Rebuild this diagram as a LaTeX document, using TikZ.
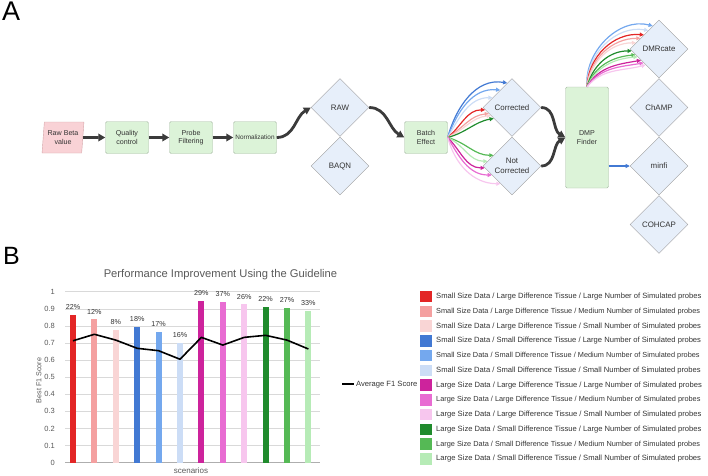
\documentclass[tikz,border=0pt]{standalone}
\usepackage{fontspec}
\setmainfont{Liberation Sans}
\usetikzlibrary{shapes.geometric,arrows.meta}

\definecolor{cRedA}{HTML}{E32626}
\definecolor{cRedB}{HTML}{F4A0A0}
\definecolor{cRedC}{HTML}{F9D5D5}
\definecolor{cBluA}{HTML}{4279D3}
\definecolor{cBluB}{HTML}{74A8EE}
\definecolor{cBluC}{HTML}{CCDDF6}
\definecolor{cMagA}{HTML}{CD239C}
\definecolor{cMagB}{HTML}{E86CD2}
\definecolor{cMagC}{HTML}{F7C6EE}
\definecolor{cGrnA}{HTML}{1F8B2C}
\definecolor{cGrnB}{HTML}{55B955}
\definecolor{cGrnC}{HTML}{B6EBB6}
\definecolor{boxfill}{HTML}{DCF3D8}
\definecolor{boxline}{HTML}{A8BBA5}
\definecolor{diafill}{HTML}{E7EFFA}
\definecolor{dialine}{HTML}{9C9C9C}
\definecolor{pinkfill}{HTML}{F9D2D6}
\definecolor{pinkline}{HTML}{D4A4A8}
\definecolor{flowgray}{HTML}{3B3B3B}
\definecolor{txtgray}{HTML}{333333}
\definecolor{axisgray}{HTML}{595959}
\definecolor{gridgray}{HTML}{D9D9D9}

\begin{document}
\begin{tikzpicture}[x=1pt,y=-1pt]
      \useasboundingbox (0,0) rectangle (708,475);
      \tikzset{P/.style = {trapezium, trapezium left angle=82, trapezium right angle=98, trapezium stretches=true, minimum width=42pt, minimum height=31pt, inner sep=0pt, draw=pinkline, fill=pinkfill, align=center, text=txtgray, font=\fontsize{7.1}{8.4}\selectfont}}
      \tikzset{R/.style = {draw=boxline, fill=boxfill, rounded corners=1.5pt, minimum width=43pt, minimum height=32pt, inner sep=1pt, align=center, text=txtgray, font=\fontsize{7.1}{8.4}\selectfont}}
      \tikzset{D/.style = {shape=diamond, draw=dialine, fill=diafill, minimum width=58pt, minimum height=58pt, inner sep=0pt, align=center, text=txtgray, font=\fontsize{7.9}{9.4}\selectfont}}
      \tikzset{E/.style = {draw=flowgray, line width=2.8pt, -{Triangle[length=7pt,width=7.5pt]}}}
      \tikzset{F/.style = {line width=1.2pt, -{Triangle[length=4.2pt,width=4pt]}}}
      \tikzset{tick/.style = {anchor=east, inner sep=1pt, text=axisgray, font=\fontsize{7.5}{9}\selectfont}}
      \tikzset{pct/.style = {inner sep=0pt, yshift=7.5pt, text=txtgray, font=\fontsize{7.2}{8.6}\selectfont}}
      \tikzset{key/.style = {minimum width=11.5pt, minimum height=11.5pt, inner sep=0pt}}
      \tikzset{keytxt/.style = {anchor=west, inner sep=0pt, text=txtgray, font=\fontsize{7.6}{9}\selectfont}}
      % panel A
      \node[anchor=north west, inner sep=0pt, font=\fontsize{27}{27}\selectfont] (lblA) at (2,2) {A};
      \node[P] (rbv) at (63,137.5) {Raw Beta\\value};
      \node[R] (qc) at (127,137.5) {Quality\\control};
      \node[R] (pf) at (191,137.5) {Probe\\Filtering};
      \node[R,font=\fontsize{6.4}{7.5}\selectfont] (norm) at (255,137.5) {Normalization};
      \node[D] (raw) at (340,107.5) {RAW};
      \node[D] (baqn) at (340,166) {BAQN};
      \node[R] (batch) at (426,137.5) {Batch\\Effect};
      \node[D] (corr) at (512,107.5) {Corrected};
      \node[D] (ncorr) at (512,166) {Not\\Corrected};
      \node[R,minimum height=101pt] (dmp) at (587,137.5) {DMP\\Finder};
      \node[D] (dmrcate) at (659,49) {DMRcate};
      \node[D] (champ) at (659,107.5) {ChAMP};
      \node[D] (minfi) at (659,166) {minfi};
      \node[D] (cohcap) at (659,224.5) {COHCAP};
      \draw[E] (rbv.east) -- (qc.west);
      \draw[E] (qc) -- (pf);
      \draw[E] (pf) -- (norm);
      \draw[E] (norm.east) to[out=0,in=210] (raw.west);
      \draw[E] (raw.east) to[out=0,in=150] (batch.west);
      \draw[E] (corr.east) to[out=0,in=150] (dmp.west);
      \draw[E] (ncorr.east) to[out=0,in=210] (dmp.west);
      % batch effect fan
      \draw[F,cBluA] (batch.east) to[out=75,in=170] (corr.101);
      \draw[F,cBluB] (batch.east) to[out=70,in=175] (corr.124);
      \draw[F,cBluC] (batch.east) to[out=60,in=180] (corr.153);
      \draw[F,cRedA] (batch.east) to[out=40,in=180] (corr.185);
      \draw[F,cRedB] (batch.east) to[out=32,in=185] (corr.195);
      \draw[F,cRedC] (batch.east) to[out=25,in=185] (corr.201);
      \draw[F,cGrnA] (batch.east) to[out=15,in=190] (corr.211);
      \draw[F,cGrnB] (batch.east) to[out=-15,in=180] (ncorr.150);
      \draw[F,cGrnC] (batch.east) to[out=-25,in=180] (ncorr.169);
      \draw[F,cMagA] (batch.east) to[out=-45,in=180] (ncorr.184);
      \draw[F,cMagB] (batch.east) to[out=-60,in=180] (ncorr.204);
      \draw[F,cMagC] (batch.east) to[out=-75,in=180] (ncorr.237);
      % DMP finder fan
      \draw[F,cBluB] (dmp.north) to[out=95,in=165] (dmrcate.105);
      \draw[F,cBluC] (dmp.north) to[out=92,in=170] (dmrcate.120);
      \draw[F,cRedA] (dmp.north) to[out=88,in=175] (dmrcate.137);
      \draw[F,cRedB] (dmp.north) to[out=85,in=180] (dmrcate.150);
      \draw[F,cRedC] (dmp.north) to[out=82,in=180] (dmrcate.165);
      \draw[F,cGrnA] (dmp.north) to[out=75,in=180] (dmrcate.184);
      \draw[F,cGrnB] (dmp.north) to[out=70,in=185] (dmrcate.194);
      \draw[F,cGrnC] (dmp.north) to[out=65,in=185] (dmrcate.200);
      \draw[F,cMagA] (dmp.north) to[out=60,in=190] (dmrcate.212);
      \draw[F,cMagB] (dmp.north) to[out=55,in=190] (dmrcate.222);
      \draw[F,cMagC] (dmp.north) to[out=50,in=195] (dmrcate.230);
      \draw[F,cBluA] (dmp.east |- minfi.west) -- (minfi.west);
      % panel B
      \node[anchor=north west, inner sep=0pt, font=\fontsize{25}{25}\selectfont] (lblB) at (3,247) {B};
      \node[text=axisgray, font=\fontsize{11.2}{13}\selectfont] (title) at (220.5,275) {Performance Improvement Using the Guideline};
      \node[rotate=90, text=axisgray, font=\fontsize{7.2}{8.6}\selectfont] (ylab) at (39,380.5) {Best F1 Score};
      \node[text=axisgray, font=\fontsize{8}{9.6}\selectfont] (xlab) at (191,470.5) {scenarios};
      \begin{scope}[shift={(0,462.7)}, y=171pt]
        \draw[gridgray, line width=0.6pt] (65,0.1) -- (320,0.1) (65,0.2) -- (320,0.2) (65,0.3) -- (320,0.3)
          (65,0.4) -- (320,0.4) (65,0.5) -- (320,0.5) (65,0.6) -- (320,0.6) (65,0.7) -- (320,0.7)
          (65,0.8) -- (320,0.8) (65,0.9) -- (320,0.9) (65,1) -- (320,1);
        \draw[gridgray!80!black, line width=0.6pt] (65,0) -- (320,0);
        \node[tick] (y0) at (56,0) {0};
        \node[tick] (y1) at (56,0.1) {0.1};
        \node[tick] (y2) at (56,0.2) {0.2};
        \node[tick] (y3) at (56,0.3) {0.3};
        \node[tick] (y4) at (56,0.4) {0.4};
        \node[tick] (y5) at (56,0.5) {0.5};
        \node[tick] (y6) at (56,0.6) {0.6};
        \node[tick] (y7) at (56,0.7) {0.7};
        \node[tick] (y8) at (56,0.8) {0.8};
        \node[tick] (y9) at (56,0.9) {0.9};
        \node[tick] (y10) at (56,1) {1};
        \fill[cRedA] (70,0) rectangle (76,0.864);
        \fill[cRedB] (91.4,0) rectangle (97.4,0.838);
        \fill[cRedC] (112.8,0) rectangle (118.8,0.776);
        \fill[cBluA] (134.2,0) rectangle (140.2,0.795);
        \fill[cBluB] (155.6,0) rectangle (161.6,0.766);
        \fill[cBluC] (177,0) rectangle (183,0.702);
        \fill[cMagA] (198.4,0) rectangle (204.4,0.947);
        \fill[cMagB] (219.8,0) rectangle (225.8,0.942);
        \fill[cMagC] (241.2,0) rectangle (247.2,0.926);
        \fill[cGrnA] (262.6,0) rectangle (268.6,0.912);
        \fill[cGrnB] (284,0) rectangle (290,0.906);
        \fill[cGrnC] (305.4,0) rectangle (311.4,0.889);
        \node[pct] (p1) at (73,0.864) {22\%};
        \node[pct] (p2) at (94.4,0.838) {12\%};
        \node[pct] (p3) at (115.8,0.776) {8\%};
        \node[pct] (p4) at (137.2,0.795) {18\%};
        \node[pct] (p5) at (158.6,0.766) {17\%};
        \node[pct] (p6) at (180,0.702) {16\%};
        \node[pct] (p7) at (201.4,0.947) {29\%};
        \node[pct] (p8) at (222.8,0.942) {37\%};
        \node[pct] (p9) at (244.2,0.926) {26\%};
        \node[pct] (p10) at (265.6,0.912) {22\%};
        \node[pct] (p11) at (287,0.906) {27\%};
        \node[pct] (p12) at (308.4,0.889) {33\%};
        \draw[black, line width=1.6pt, line join=round] (73,0.713) -- (94.4,0.751) -- (115.8,0.717) -- (137.2,0.669)
          -- (158.6,0.655) -- (180,0.605) -- (201.4,0.733) -- (222.8,0.688) -- (244.2,0.733) -- (265.6,0.745)
          -- (287,0.717) -- (308.4,0.665);
      \end{scope}
      % legend
      \draw[black, line width=1.8pt] (342,384.3) -- (354,384.3);
      \node[keytxt] (avg) at (356,384.3) {Average F1 Score};
      \node[key,fill=cRedA] (k1) at (426,296.7) {};
      \node[key,fill=cRedB] (k2) at (426,311.5) {};
      \node[key,fill=cRedC] (k3) at (426,326.2) {};
      \node[key,fill=cBluA] (k4) at (426,341) {};
      \node[key,fill=cBluB] (k5) at (426,355.7) {};
      \node[key,fill=cBluC] (k6) at (426,370.5) {};
      \node[key,fill=cMagA] (k7) at (426,385.2) {};
      \node[key,fill=cMagB] (k8) at (426,400) {};
      \node[key,fill=cMagC] (k9) at (426,414.7) {};
      \node[key,fill=cGrnA] (k10) at (426,429.5) {};
      \node[key,fill=cGrnB] (k11) at (426,444.2) {};
      \node[key,fill=cGrnC] (k12) at (426,459) {};
      \node[keytxt] (kt1) at (436,296.7) {Small Size Data / Large Difference Tissue / Large Number of Simulated probes};
      \node[keytxt,font=\fontsize{7.35}{9}\selectfont] (kt2) at (436,311.5) {Small Size Data / Large Difference Tissue / Medium Number of Simulated probes};
      \node[keytxt] (kt3) at (436,326.2) {Small Size Data / Large Difference Tissue / Small Number of Simulated probes};
      \node[keytxt] (kt4) at (436,341) {Small Size Data / Small Difference Tissue / Large Number of Simulated probes};
      \node[keytxt,font=\fontsize{7.35}{9}\selectfont] (kt5) at (436,355.7) {Small Size Data / Small Difference Tissue / Medium Number of Simulated probes};
      \node[keytxt] (kt6) at (436,370.5) {Small Size Data / Small Difference Tissue / Small Number of Simulated probes};
      \node[keytxt] (kt7) at (436,385.2) {Large Size Data / Large Difference Tissue / Large Number of Simulated probes};
      \node[keytxt,font=\fontsize{7.35}{9}\selectfont] (kt8) at (436,400) {Large Size Data / Large Difference Tissue / Medium Number of Simulated probes};
      \node[keytxt] (kt9) at (436,414.7) {Large Size Data / Large Difference Tissue / Small Number of Simulated probes};
      \node[keytxt] (kt10) at (436,429.5) {Large Size Data / Small Difference Tissue / Large Number of Simulated probes};
      \node[keytxt,font=\fontsize{7.35}{9}\selectfont] (kt11) at (436,444.2) {Large Size Data / Small Difference Tissue / Medium Number of Simulated probes};
      \node[keytxt] (kt12) at (436,459) {Large Size Data / Small Difference Tissue / Small Number of Simulated probes};
\end{tikzpicture}
\end{document}
